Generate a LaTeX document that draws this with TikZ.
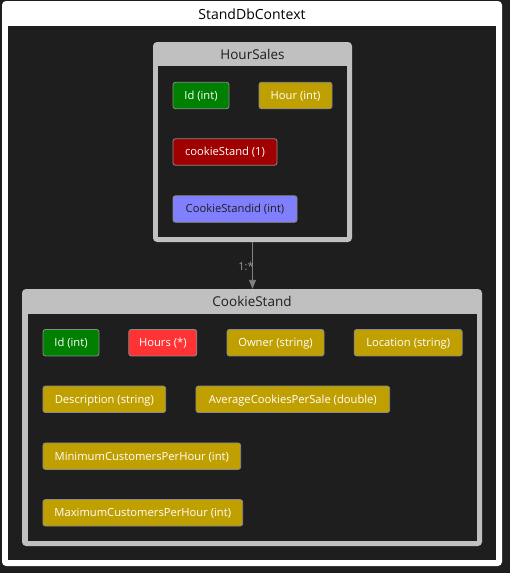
\documentclass[tikz,border=0pt]{standalone}
\usepackage{fontspec}
\setmainfont{Open Sans}
\usetikzlibrary{arrows.meta}
\definecolor{bgdark}{HTML}{1E1E1E}
\definecolor{boxgray}{HTML}{C0C0C0}
\definecolor{fgreen}{HTML}{008000}
\definecolor{fyellow}{HTML}{C0A000}
\definecolor{fdred}{HTML}{A00000}
\definecolor{fred}{HTML}{FF3333}
\definecolor{fblue}{HTML}{8080FF}
\definecolor{fborder}{HTML}{8A8A8A}
\definecolor{arrowgray}{HTML}{808080}
\definecolor{labelgray}{HTML}{9A9A9A}
\tikzset{
  field/.style={draw=fborder, line width=0.8pt, rounded corners=2.5pt, inner sep=0pt,
    minimum height=26.5pt, text height=7.8pt, text depth=0pt, text=white,
    font=\fontsize{11.2}{13}\selectfont, align=center},
  entityframe/.style={fill=boxgray, rounded corners=4pt, inner sep=0pt, draw=none},
  entityinner/.style={fill=bgdark, inner sep=0pt, draw=none},
  titletext/.style={font=\fontsize{13.5}{15}\selectfont, text=bgdark, inner sep=0pt},
  rel/.style={draw=arrowgray, line width=0.9pt, -{Triangle[width=7pt,length=9pt]}},
}
\begin{document}
\begin{tikzpicture}[x=1pt,y=-1pt]
\useasboundingbox (0,0) rectangle (510,573);
\fill[bgdark] (0,0) rectangle (510,573);
% outer context frame
\node[fill=white, rounded corners=4pt, inner sep=0pt, minimum width=500pt, minimum height=565pt] (ctx) at (252,283.5) {};
\node[entityinner, minimum width=488pt, minimum height=534pt] (ctxin) at (252,293) {};
\node[font=\fontsize{14}{16}\selectfont, text=black, inner sep=0pt] (ctxtitle) at (252,14.6) {StandDbContext};
% HourSales
\node[entityframe, minimum width=199pt, minimum height=200pt] (hs) at (252.5,142) {};
\node[entityinner, minimum width=189pt, minimum height=171pt] (hsin) at (252.5,151.5) {};
\node[titletext] (hstitle) at (252.5,54.3) {HourSales};
\node[field, fill=fgreen, minimum width=56pt] (hsId) at (201,95.5) {Id (int)};
\node[field, fill=fyellow, minimum width=73pt] (hsHour) at (295.5,95.5) {Hour (int)};
\node[field, fill=fdred, minimum width=104pt] (hsCs) at (225,152) {cookieStand (1)};
\node[field, fill=fblue, minimum width=124pt, text=bgdark] (hsCsid) at (235,209) {CookieStandid (int)};
% CookieStand
\node[entityframe, minimum width=460pt, minimum height=257pt] (cs) at (252,417.5) {};
\node[entityinner, minimum width=449pt, minimum height=227pt] (csin) at (252.5,427.5) {};
\node[titletext] (cstitle) at (252,301) {CookieStand};
\node[field, fill=fgreen, minimum width=56pt] (csId) at (71,342.7) {Id (int)};
\node[field, fill=fred, minimum width=68pt] (csHours) at (162.8,342.7) {Hours (*)};
\node[field, fill=fyellow, minimum width=97pt] (csOwner) at (275.5,342.7) {Owner (string)};
\node[field, fill=fyellow, minimum width=108pt] (csLoc) at (408.2,342.7) {Location (string)};
\node[field, fill=fyellow, minimum width=122.7pt] (csDesc) at (104.3,399.3) {Description (string)};
\node[field, fill=fyellow, minimum width=193.7pt] (csAvg) at (292.8,399.3) {AverageCookiesPerSale (double)};
\node[field, fill=fyellow, minimum width=197.7pt] (csMin) at (141.8,456.2) {MinimumCustomersPerHour (int)};
\node[field, fill=fyellow, minimum width=199.7pt] (csMax) at (142.8,512.8) {MaximumCustomersPerHour (int)};
% relation
\draw[rel] (hs.south) -- (hs.south |- cs.north);
\node[font=\fontsize{11}{13}\selectfont, text=labelgray, inner sep=0pt] (rellabel) at (246,266.5) {1:*};
\end{tikzpicture}
\end{document}
